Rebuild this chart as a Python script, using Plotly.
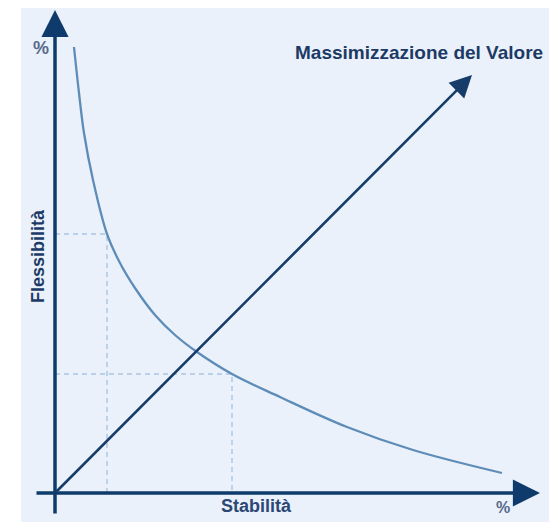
import plotly.graph_objects as go

# ---- data (origin = where the two axes meet) ----
curve_x = [19, 24, 29, 38, 52, 65, 80, 100, 120, 142, 177, 225, 292, 358, 447]
curve_y = [446, 400, 360, 313, 259, 230, 205, 178, 158, 141, 119, 96, 66, 43, 20]

value_x = [0, 417]          # "Massimizzazione del Valore" line
value_y = [0, 418]

guide_x = [52, 177]         # dashed guides: where the curve is read
guide_y = [259, 119]

x_axis_span = [-20, 485]    # drawn axis arrows
y_axis_span = [-22, 483]

title_text = "Massimizzazione del Valore"
x_label = "Stabilità"
y_label = "Flessibilità"
unit_label = "%"

# ---- styling ----
NAVY = "#0F3B6C"
CURVE = "#5E8CB8"
DASH = "#A9C5E2"
BG = "#EAF1FA"
FONT = "Liberation Sans, Arial, sans-serif"

W, H = 549, 514   # page body margin of 8px is part of the white frame

fig = go.Figure()

# dashed guide lines
for gx, gy in zip(guide_x, guide_y):
    fig.add_trace(go.Scatter(x=[0, gx, gx], y=[gy, gy, 0], mode="lines",
                             line=dict(color=DASH, width=1.4, dash="5px,4px"),
                             hoverinfo="skip", showlegend=False))

# curve
fig.add_trace(go.Scatter(x=curve_x, y=curve_y, mode="lines",
                         line=dict(color=CURVE, width=2.3, shape="spline", smoothing=1.0),
                         hoverinfo="skip", showlegend=False))

annotations = []
# y axis arrow
annotations.append(dict(x=0, y=y_axis_span[1], ax=0, ay=y_axis_span[0],
                        xref="x", yref="y", axref="x", ayref="y", text="",
                        showarrow=True, arrowhead=2, arrowsize=1.55, arrowwidth=3.5,
                        arrowcolor=NAVY))
# x axis arrow
annotations.append(dict(x=x_axis_span[1], y=0, ax=x_axis_span[0], ay=0,
                        xref="x", yref="y", axref="x", ayref="y", text="",
                        showarrow=True, arrowhead=2, arrowsize=1.55, arrowwidth=3.5,
                        arrowcolor=NAVY))
# value diagonal arrow
annotations.append(dict(x=value_x[1], y=value_y[1], ax=value_x[0], ay=value_y[0],
                        xref="x", yref="y", axref="x", ayref="y", text="",
                        showarrow=True, arrowhead=2, arrowsize=1.7, arrowwidth=2.6,
                        arrowcolor="#163D69"))

# texts
annotations.append(dict(x=490, y=441, xref="x", yref="y", text="<b>%s</b>" % title_text,
                        showarrow=False, xanchor="right", yanchor="middle",
                        font=dict(family=FONT, size=19, color="#1D3A66")))
annotations.append(dict(x=-14, y=445, xref="x", yref="y", text="<b>%s</b>" % unit_label,
                        showarrow=False, xanchor="center", yanchor="middle",
                        font=dict(family=FONT, size=18, color="#56698C")))
annotations.append(dict(x=-17, y=237, xref="x", yref="y", text="<b>%s</b>" % y_label,
                        showarrow=False, xanchor="center", yanchor="middle", textangle=-90,
                        font=dict(family=FONT, size=18, color="#1D3A66")))
annotations.append(dict(x=201, y=-13, xref="x", yref="y", text="<b>%s</b>" % x_label,
                        showarrow=False, xanchor="center", yanchor="middle",
                        font=dict(family=FONT, size=18, color="#2A4775")))
annotations.append(dict(x=448, y=-14, xref="x", yref="y", text="<b>%s</b>" % unit_label,
                        showarrow=False, xanchor="center", yanchor="middle",
                        font=dict(family=FONT, size=16, color="#56698C")))

fig.update_layout(
    width=W, height=H,
    margin=dict(l=0, r=0, t=0, b=0),
    paper_bgcolor="white", plot_bgcolor="rgba(0,0,0,0)",
    xaxis=dict(range=[-47, 502], visible=False, fixedrange=True),
    yaxis=dict(range=[-29, 485], visible=False, fixedrange=True),
    annotations=annotations,
    shapes=[dict(type="rect", xref="paper", yref="paper", x0=13 / W, x1=1,
                 y0=0, y1=1, fillcolor=BG, line=dict(width=0), layer="below")],
    showlegend=False,
)

fig.write_html("out.html")
